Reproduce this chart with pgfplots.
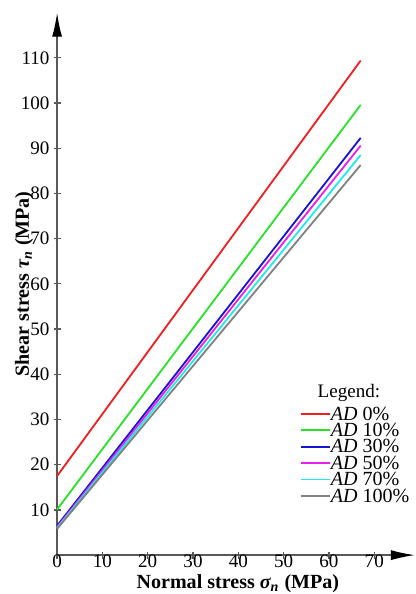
\documentclass[border=0pt]{standalone}
\usepackage{pgfplots}
\pgfplotsset{compat=1.18}
\usepackage{fontspec}
\setmainfont{Liberation Serif}
\usetikzlibrary{arrows.meta}
\definecolor{cred}{RGB}{240,30,30}
\definecolor{cgreen}{RGB}{40,225,40}
\definecolor{cblue}{RGB}{20,20,210}
\definecolor{cmag}{RGB}{235,30,235}
\definecolor{ccyan}{RGB}{30,235,235}
\definecolor{cgray}{RGB}{128,128,128}
\begin{document}
\begin{tikzpicture}
\begin{axis}[
  scale only axis,
  width=178.5pt, height=270.5pt,
  xmin=0, xmax=79, ymin=0, ymax=120,
  axis lines=left,
  axis line style={draw=black!65, line width=0.7pt, -{Latex[length=12pt,width=5pt,color=black]}},
  xtick={0,10,...,70}, ytick={10,20,...,110},
  tick align=center, major tick length=3.5pt,
  tick style={draw=black!65, line width=0.6pt},
  /pgf/number format/assume math mode=true,
  tick label style={font=\fontsize{9.5}{10}\selectfont},
  xticklabel style={yshift=3pt, inner ysep=1pt},
  yticklabel style={xshift=1.5pt},
  xlabel={\textbf{Normal stress \textit{σ\textsubscript{n}} (MPa)}},
  ylabel={\textbf{Shear stress \textit{τ\textsubscript{n}} (MPa)}},
  label style={font=\fontsize{10}{10}\selectfont},
  xlabel style={at={(axis description cs:0.505,-0.052)}, anchor=center, inner ysep=1pt},
  ylabel style={at={(axis description cs:-0.092,0.50)}, anchor=center},
  legend style={draw=none, fill=none, at={(axis cs:53.5,32.9)}, anchor=north west,
     font=\fontsize{10}{8}\selectfont, row sep=1.2pt, inner sep=0pt,
     nodes={inner sep=0pt, text height=6.6pt, text depth=0.4pt},
     /tikz/every even column/.append style={column sep=2pt}},
  legend cell align=left,
  legend image post style={xscale=0.85},
  clip=false,
]
\addplot[cred, line width=0.9pt] coordinates {(0,17.5) (67,109.4)};
\addlegendentry{\textit{AD} 0\%}
\addplot[cgreen, line width=0.9pt] coordinates {(0,10.1) (67,99.6)};
\addlegendentry{\textit{AD} 10\%}
\addplot[cblue, line width=0.9pt] coordinates {(0,6.5) (67,92.3)};
\addlegendentry{\textit{AD} 30\%}
\addplot[cmag, line width=0.9pt] coordinates {(0,6.2) (67,90.6)};
\addlegendentry{\textit{AD} 50\%}
\addplot[ccyan, line width=0.9pt] coordinates {(0,6.0) (67,88.5)};
\addlegendentry{\textit{AD} 70\%}
\addplot[cgray, line width=0.9pt] coordinates {(0,5.8) (67,86.3)};
\addlegendentry{\textit{AD} 100\%}
\node[font=\fontsize{9.5}{10}\selectfont] at (axis cs:64.4,35.9) {Legend:};
\coordinate (bbA) at (axis cs:-12.6,-8.6);
\coordinate (bbB) at (axis cs:79,122.8);
\end{axis}
\pgfresetboundingbox
\path[use as bounding box] (bbA) rectangle (bbB);
\end{tikzpicture}
\end{document}
